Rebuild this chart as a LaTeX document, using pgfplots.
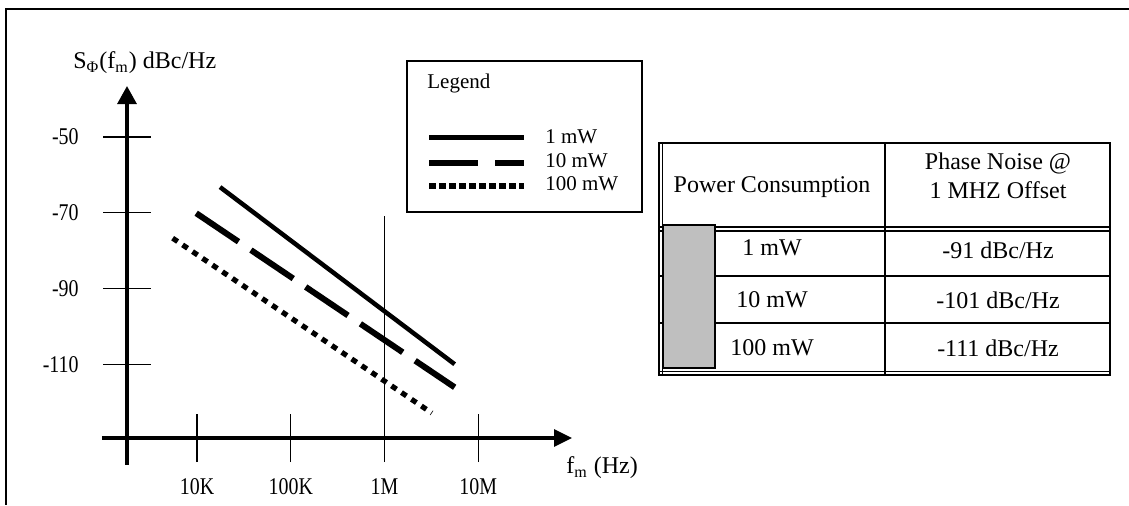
\documentclass[border=0pt]{standalone}
\usepackage{fontspec}
\setmainfont{Liberation Serif}
\newfontfamily\narrowserif[FakeStretch=0.83]{Liberation Serif}
\usepackage{pgfplots}
\pgfplotsset{compat=1.18}
\usetikzlibrary{arrows.meta}
\tikzset{tl/.style={inner sep=0, font=\narrowserif\fontsize{12}{14}\selectfont}}

\begin{document}
\begin{tikzpicture}
\useasboundingbox (0,0) rectangle (564.5pt,-252.5pt);
\begin{axis}[
  at={(63.5pt,-219pt)}, anchor=south west,
  scale only axis, width=222.5pt, height=176pt,
  xmode=log, xmin=1791, xmax=1e8, ymin=-129.5, ymax=-36.5,
  axis x line=bottom, axis y line=left,
  axis line style={line width=1.6pt},
  x axis line style={-{Triangle[length=9pt,width=8.5pt]}},
  y axis line style={-{Triangle[length=9pt,width=9.5pt]}},
  xtick={1e4,1e5,1e6,1e7}, xticklabels={},
  ytick={-50,-70,-90,-110}, yticklabels={},
  tick align=center, major tick length=24pt,
  major tick style={line width=0.65pt, black},
  minor tick style={draw=none},
  clip=false,
]
\addplot[line width=2.25pt] coordinates {(17600,-63.2) (5.6e6,-110.0)};
\addplot[line width=3pt, dash pattern=on 25.5pt off 7.5pt] coordinates {(9800,-70.1) (5.6e6,-116.1)};
\addplot[line width=2.6pt, dash pattern=on 3pt off 3pt] coordinates {(5500,-76.7) (3.2e6,-122.9)};
\addplot[line width=0.8pt] coordinates {(1e6,-70.9) (1e6,-129.5)};
% axis overhangs
\draw[line width=1.6pt] (axis cs:968,-129.5) -- (axis cs:1791,-129.5);
\draw[line width=1.6pt] (axis cs:1791,-129.5) -- (axis cs:1791,-136.6);
% tick labels
\node[tl, yshift=-24.5pt] at (axis cs:10000,-129.5) {10K};
\node[tl, yshift=-24.5pt] at (axis cs:100000,-129.5) {100K};
\node[tl, yshift=-24.5pt] at (axis cs:1000000,-129.5) {1M};
\node[tl, yshift=-24.5pt] at (axis cs:10000000,-129.5) {10M};
\node[tl, anchor=east, xshift=-24pt] at (axis cs:1791,-50) {-50};
\node[tl, anchor=east, xshift=-24pt] at (axis cs:1791,-70) {-70};
\node[tl, anchor=east, xshift=-24pt] at (axis cs:1791,-90) {-90};
\node[tl, anchor=east, xshift=-24pt] at (axis cs:1791,-110) {-110};
\end{axis}

\begin{scope}[x=0.5pt, y=-0.5pt]
% frame
\draw[line width=1pt] (1129,9) -- (6,9) -- (6,505);
% axis labels
\node[inner sep=0, anchor=west, font=\fontsize{12}{14}\selectfont] at (73,63) {S\textsubscript{Φ}(f\textsubscript{m}) dBc/Hz};
\node[inner sep=0, anchor=west, font=\fontsize{12}{14}\selectfont] at (566,468) {f\textsubscript{m} (Hz)};
% legend
\draw[line width=0.8pt] (407,61) rectangle (642,212);
\node[inner sep=0, anchor=west, font=\fontsize{10.5}{12}\selectfont] at (427,83) {Legend};
\draw[line width=2.5pt] (429,137) -- (524,137);
\draw[line width=3pt, dash pattern=on 24.5pt off 8.5pt] (429,163) -- (524,163);
\draw[line width=3.2pt, dash pattern=on 3.4pt off 1.6pt] (429,186) -- (524,186);
\node[inner sep=0, anchor=west, font=\fontsize{10.5}{12}\selectfont] at (545,137) {1 mW};
\node[inner sep=0, anchor=west, font=\fontsize{10.5}{12}\selectfont] at (545,161) {10 mW};
\node[inner sep=0, anchor=west, font=\fontsize{10.5}{12}\selectfont] at (545,184) {100 mW};
% table
\draw[line width=1.2pt] (659,143) rectangle (1110,375);
\draw[line width=0.5pt] (662.5,143) -- (662.5,375);
\draw[line width=1.4pt] (885,143) -- (885,375);
\draw[line width=1pt] (659,226.5) -- (1110,226.5);
\draw[line width=1pt] (659,231) -- (1110,231);
\draw[line width=1.4pt] (659,276) -- (1110,276);
\draw[line width=1.4pt] (659,323) -- (1110,323);
\draw[line width=0.6pt] (659,371.5) -- (1110,371.5);
\filldraw[fill=gray!50, draw=black, line width=0.6pt] (663,225) rectangle (715,368);
\begin{scope}[every node/.style={inner sep=0, font=\fontsize{12}{14}\selectfont}]
\node at (772,187) {Power Consumption};
\node at (998,163) {Phase Noise @};
\node at (998,190) {1 MHZ Offset};
\node at (772,248) {1 mW};
\node at (772,300) {10 mW};
\node at (772,348) {100 mW};
\node at (998,250) {-91 dBc/Hz};
\node at (998,300) {-101 dBc/Hz};
\node at (998,348) {-111 dBc/Hz};
\end{scope}
\end{scope}
\end{tikzpicture}
\end{document}
